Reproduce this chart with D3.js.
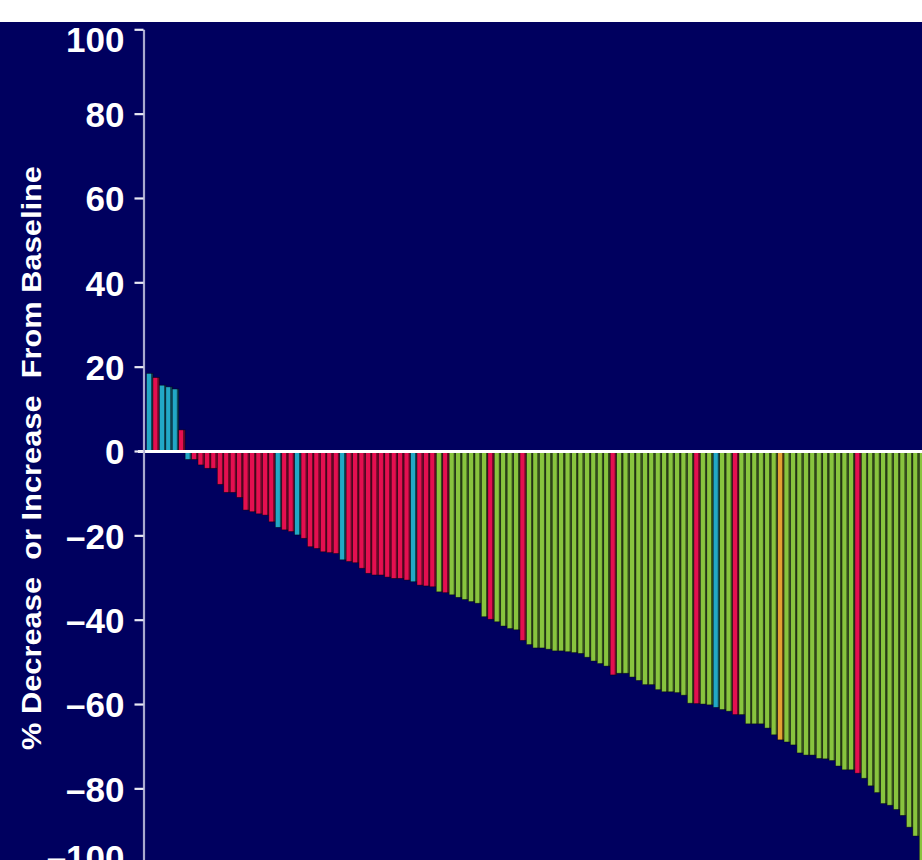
<!DOCTYPE html>
<html>
<head>
<meta charset="utf-8">
<script src="https://cdn.jsdelivr.net/npm/d3@7"></script>
<style>
  html, body { margin: 0; padding: 0; background: #fff; }
  svg { display: block; }
</style>
</head>
<body>
<svg id="chart" width="922" height="860"></svg>
<script>
'use strict';

// percent change from baseline, one value per patient (sorted waterfall)
const changes = [
    18.4, 17.4, 15.6, 15.2, 14.7, 5.0, -2.0, -2.0, -3.3, -4.1,
    -4.1, -7.9, -9.8, -9.8, -11.0, -14.0, -14.4, -14.9, -15.2, -16.8,
    -18.1, -18.7, -19.1, -19.9, -20.7, -22.7, -23.1, -23.9, -24.1, -24.3,
    -25.8, -26.2, -26.5, -27.8, -29.0, -29.4, -29.4, -29.9, -30.2, -30.2,
    -30.6, -31.0, -31.8, -32.0, -32.2, -33.4, -33.6, -34.1, -34.7, -35.2,
    -35.7, -36.1, -39.3, -39.9, -40.5, -41.5, -42.1, -42.4, -44.9, -45.9,
    -46.7, -46.7, -47.0, -47.4, -47.4, -47.6, -47.8, -48.0, -48.9, -49.8,
    -50.4, -51.0, -53.1, -52.7, -52.7, -53.6, -54.4, -55.4, -55.4, -56.6,
    -57.1, -57.1, -57.3, -57.9, -59.8, -59.9, -60.0, -60.2, -60.8, -61.3,
    -61.7, -62.5, -62.5, -64.7, -64.7, -64.7, -65.7, -67.3, -68.5, -69.0,
    -69.7, -71.6, -72.1, -72.1, -72.9, -73.0, -73.4, -74.7, -75.6, -75.6,
    -76.4, -77.6, -79.4, -81.0, -83.6, -84.0, -85.0, -86.4, -89.2, -91.3,
    -98.0
];

// response group of each bar: c = cyan, r = red, g = green, o = orange
const groups = (
    'crcccrcrrr' + 'rrrrrrrrrr' + 'crrcrrrrrr' + 'crrrrrrrrr' +
    'rcrrrgrggg' + 'gggrggggrg' + 'gggggggggg' + 'ggrggggggg' +
    'gggggrggcg' + 'grggggggog' + 'gggggggggg' + 'rggggggggg' + 'g'
).split('');

const yTicks = [100, 80, 60, 40, 20, 0, -20, -40, -60, -80, -100];
const yTitle = '% Decrease  or Increase  From Baseline';

const palette = {
    c: { light: '#22a8c6', dark: '#0f4b5a' },
    r: { light: '#e40f50', dark: '#6a0a27' },
    g: { light: '#88c43e', dark: '#36501b' },
    o: { light: '#e2a232', dark: '#6e4c14' }
};

const width = 922;
const height = 860;
const bg = '#00005f';

const svg = d3.select('#chart');

svg.append('rect')
    .attr('x', 0).attr('y', 0)
    .attr('width', width).attr('height', height)
    .attr('fill', bg);

// one gradient per colour: bright left part, darker right edge
const defs = svg.append('defs');
Object.keys(palette).forEach((k) => {
    const grad = defs.append('linearGradient')
        .attr('id', 'bar-' + k)
        .attr('x1', '0').attr('x2', '1')
        .attr('y1', '0').attr('y2', '0');
    grad.append('stop').attr('offset', '0%').attr('stop-color', palette[k].light);
    grad.append('stop').attr('offset', '64%').attr('stop-color', palette[k].light);
    grad.append('stop').attr('offset', '74%').attr('stop-color', palette[k].dark);
    grad.append('stop').attr('offset', '100%').attr('stop-color', palette[k].dark);
});

const pitch = 6.44;
const x0 = 146.5;

const x = d3.scaleBand()
    .domain(d3.range(changes.length))
    .range([x0, x0 + changes.length * pitch])
    .padding(0);

const y = d3.scaleLinear()
    .domain([-100, 100])
    .range([872.7, 29.3]);

// bars
const bars = svg.append('g').attr('class', 'bars');
bars.selectAll('rect')
    .data(changes)
    .enter()
    .append('rect')
    .attr('x', (d, i) => x(i))
    .attr('y', (d) => Math.min(y(d), y(0)))
    .attr('width', x.bandwidth())
    .attr('height', (d) => Math.abs(y(d) - y(0)))
    .attr('fill', (d, i) => 'url(#bar-' + groups[i] + ')')
    .attr('stroke', '#050505')
    .attr('stroke-opacity', 0.6)
    .attr('stroke-width', 0.7);

// zero line
svg.append('line')
    .attr('x1', 138).attr('x2', width)
    .attr('y1', y(0) + 0.5).attr('y2', y(0) + 0.5)
    .attr('stroke', '#ffffff')
    .attr('stroke-width', 3.2);

// y axis
const axis = svg.append('g')
    .attr('transform', 'translate(143.5,0)')
    .call(d3.axisLeft(y)
        .tickValues(yTicks)
        .tickFormat((d) => d < 0 ? '\u2013' + Math.abs(d) : String(d))
        .tickSize(9)
        .tickSizeOuter(0)
        .tickPadding(10));

axis.select('.domain')
    .attr('stroke', '#a9a9cf')
    .attr('stroke-width', 2.2);
axis.selectAll('.tick line')
    .attr('stroke', '#e8e8f4')
    .attr('stroke-width', 2.2);
// labels are kept inside the visible plot band
axis.selectAll('.tick text')
    .attr('y', (d) => Math.max(39, Math.min(857, y(d))) - y(d))
    .attr('dy', '0.37em')
    .attr('fill', '#ffffff')
    .style('font-family', '"Liberation Sans", Arial, sans-serif')
    .style('font-weight', 'bold')
    .style('font-size', '35px');

// axis title
svg.append('text')
    .attr('transform', 'translate(41,458) rotate(-90)')
    .attr('text-anchor', 'middle')
    .attr('fill', '#ffffff')
    .attr('textLength', 584)
    .attr('lengthAdjust', 'spacingAndGlyphs')
    .style('white-space', 'pre')
    .style('font-family', '"Liberation Sans", Arial, sans-serif')
    .style('font-weight', 'bold')
    .style('font-size', '27px')
    .text(yTitle);

// white strip across the top
svg.append('rect')
    .attr('x', 0).attr('y', 0)
    .attr('width', width).attr('height', 22)
    .attr('fill', '#ffffff');
</script>
</body>
</html>
